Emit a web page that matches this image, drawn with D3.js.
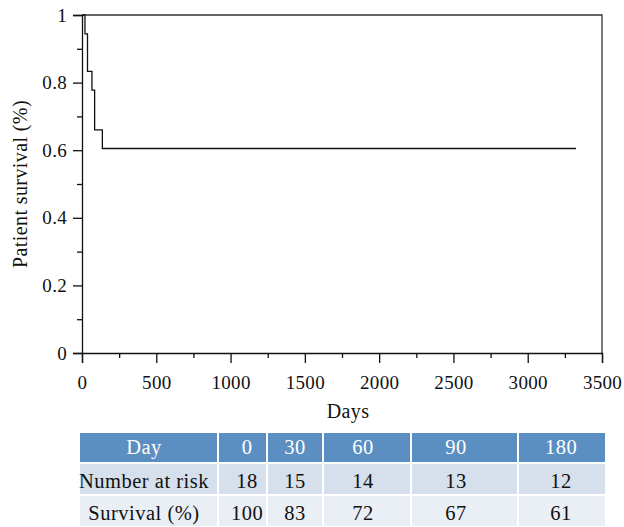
<!DOCTYPE html>
<html><head><meta charset="utf-8">
<script src="https://cdn.jsdelivr.net/npm/d3@7"></script>
<style>html,body{margin:0;padding:0;background:#fff;}svg{display:block;}</style>
</head><body>
<script>
// ---- data ----
const days = [0, 20, 37, 67, 85, 137, 3325];
const survival = [1, 0.944, 0.833, 0.778, 0.66, 0.605, 0.605];
const xTicks = [0, 500, 1000, 1500, 2000, 2500, 3000, 3500];
const yTicks = [0, 0.2, 0.4, 0.6, 0.8, 1];
const tableHeader = ["Day", "0", "30", "60", "90", "180"];
const atRisk = ["Number at risk", "18", "15", "14", "13", "12"];
const survPct = ["Survival (%)", "100", "83", "72", "67", "61"];

// ---- layout ----
const W = 624, H = 527;
const L = 82, R = 602, T = 15, B = 353;
const serif = "'Liberation Serif', 'Times New Roman', serif";

const svg = d3.select("body").append("svg").attr("width", W).attr("height", H);
const x = d3.scaleLinear().domain([0, 3500]).range([L, R]);
const y = d3.scaleLinear().domain([0, 1]).range([B, T]);

// frame (top & right)
svg.append("path").attr("d", `M${L},${T}H${R}V${B}`).attr("fill", "none")
  .attr("stroke", "#333").attr("stroke-width", 1.3);

// x axis
const gx = svg.append("g").attr("transform", `translate(0,${B})`);
gx.call(d3.axisBottom(x).tickValues(d3.range(250, 3500, 500)).tickSize(5).tickFormat(""));
gx.call(g => g.select(".domain").remove());
const gx2 = svg.append("g").attr("transform", `translate(0,${B})`);
gx2.call(d3.axisBottom(x).tickValues(xTicks).tickSize(10).tickPadding(13).tickFormat(d3.format("d")));

// y axis
const gy = svg.append("g").attr("transform", `translate(${L},0)`);
gy.call(d3.axisLeft(y).tickValues([0.1, 0.3, 0.5, 0.7, 0.9]).tickSize(5).tickFormat(""));
gy.call(g => g.select(".domain").remove());
const gy2 = svg.append("g").attr("transform", `translate(${L},0)`);
gy2.call(d3.axisLeft(y).tickValues(yTicks).tickSize(9).tickPadding(6).tickFormat(d => d === 0 || d === 1 ? String(d) : d.toFixed(1)));
[gx2, gy2].forEach(g => g.selectAll("text").attr("font-family", serif).attr("font-size", 19)
  .attr("letter-spacing", 0.3).attr("fill", "#111"));
svg.selectAll(".domain").attr("stroke", "#111").attr("stroke-width", 1.3);
svg.selectAll(".tick line").attr("stroke", "#111").attr("stroke-width", 1.3);

// curve
const pts = days.map((d, i) => [d, survival[i]]);
svg.append("path").datum(pts)
  .attr("d", d3.line().x(d => x(d[0])).y(d => y(d[1])).curve(d3.curveStepAfter))
  .attr("fill", "none").attr("stroke", "#111").attr("stroke-width", 1.3);

// titles
svg.append("text").attr("x", 348).attr("y", 418).attr("text-anchor", "middle")
  .attr("font-family", serif).attr("font-size", 20).attr("letter-spacing", 0.4).attr("fill", "#111").text("Days");
svg.append("text").attr("transform", "translate(27,184) rotate(-90)").attr("text-anchor", "middle")
  .attr("font-family", serif).attr("font-size", 20).attr("letter-spacing", 0.4).attr("fill", "#111").text("Patient survival (%)");

// table
const colEdges = [79, 218, 267, 323, 411, 518, 606];
const textCx = [144, 247, 295, 363, 456, 561];
const rowEdges = [432, 463, 495, 527];
const rowBase = [454, 488, 520];
const rowFill = ["#5b8ec1", "#d5e0ec", "#eaeff6"];
const rowColor = ["#ffffff", "#111", "#111"];
const rows = [tableHeader, atRisk, survPct];
const tg = svg.append("g");
rows.forEach((row, r) => {
  row.forEach((cell, c) => {
    tg.append("rect").attr("x", colEdges[c]).attr("y", rowEdges[r])
      .attr("width", colEdges[c + 1] - colEdges[c]).attr("height", rowEdges[r + 1] - rowEdges[r])
      .attr("fill", rowFill[r]).attr("stroke", "#fff").attr("stroke-width", 2);
    tg.append("text").attr("x", textCx[c]).attr("y", rowBase[r]).attr("text-anchor", "middle")
      .attr("font-family", serif).attr("font-size", 20.5).attr("letter-spacing", 0.5)
      .attr("fill", rowColor[r]).text(cell);
  });
});
</script>
</body></html>
